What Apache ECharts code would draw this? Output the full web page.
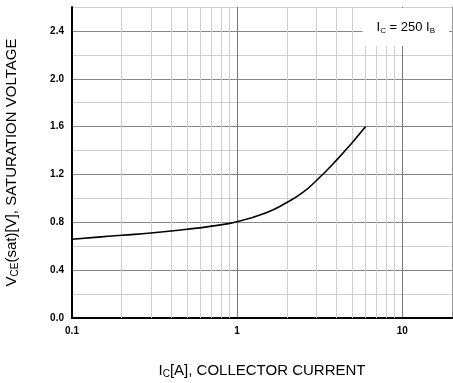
<!DOCTYPE html>
<html>
<head>
<meta charset="utf-8">
<script src="https://cdn.jsdelivr.net/npm/echarts@6/dist/echarts.min.js"></script>
<style>html,body{margin:0;padding:0;background:#fff}#c{width:453px;height:383px}</style>
</head>
<body>
<div id="c"></div>
<script>
// Collector current Ic [A]
var currentA = [0.1, 0.15, 0.2, 0.3, 0.5, 0.7, 1.0, 1.5, 2.0, 2.5, 3.0, 4.0, 5.0, 6.0];
// Vce(sat) [V]
var vceSat = [0.658, 0.678, 0.692, 0.71, 0.742, 0.768, 0.805, 0.88, 0.965, 1.05, 1.145, 1.32, 1.47, 1.6];
// minor vertical grid positions (log decades)
var minorX = [0.2, 0.3, 0.4, 0.5, 0.6, 0.7, 0.8, 0.9, 2, 3, 4, 5, 6, 7, 8, 9];
var yTickLabels = ['0.0', '0.4', '0.8', '1.2', '1.6', '2.0', '2.4'];
var xTickLabels = ['0.1', '1', '10'];

var FONT = 'Liberation Sans, Arial, sans-serif';
var chart = echarts.init(document.getElementById('c'));
var sub = {fontSize: 10, fontFamily: FONT, fontWeight: 'normal', color: '#000', verticalAlign: 'bottom', lineHeight: 14};
var main = {fontSize: 15, fontFamily: FONT, fontWeight: 'normal', color: '#000', lineHeight: 17};

chart.setOption({
  animation: false,
  grid: {left: 72, top: 7, right: 1, bottom: 65, containLabel: false, outerBoundsMode: 'none'},
  title: {
    text: '{a|I}{s|C}{a| = 250 I}{s|B}',
    right: 4, top: 7,
    backgroundColor: '#fff',
    padding: [13, 14, 11, 14],
    textStyle: {fontWeight: 'normal', rich: {
      a: {fontSize: 13, fontFamily: FONT, fontWeight: 'normal', color: '#000', lineHeight: 15},
      s: {fontSize: 8, fontFamily: FONT, fontWeight: 'normal', color: '#000', verticalAlign: 'bottom', lineHeight: 12}
    }},
    z: 10
  },
  xAxis: [{
    type: 'log', logBase: 10, min: 0.1, max: 20,
    name: '{a|I}{s|C}{a|[A], COLLECTOR CURRENT}',
    nameLocation: 'middle', nameGap: 44,
    nameTextStyle: {rich: {a: main, s: sub}},
    axisLine: {lineStyle: {color: '#000', width: 2}},
    axisTick: {show: false},
    axisLabel: {
      margin: 8, fontSize: 10, fontWeight: 'bold', fontFamily: FONT, color: '#000',
      showMaxLabel: false,
      formatter: function (v) {
        for (var i = 0; i < xTickLabels.length; i++) {
          if (Math.abs(parseFloat(xTickLabels[i]) - v) < 1e-9) return xTickLabels[i];
        }
        return '';
      }
    },
    splitLine: {show: true, lineStyle: {color: '#777', width: 1}},
    minorTick: {show: false}, minorSplitLine: {show: false}
  }, {
    type: 'log', logBase: 10, min: 0.1, max: 20, position: 'top',
    axisLine: {show: true, lineStyle: {color: '#000', width: 1.5}},
    axisTick: {show: false}, axisLabel: {show: false}, splitLine: {show: false}
  }],
  yAxis: [{
    type: 'value', min: 0, max: 2.6, interval: 0.2,
    name: '{a|V}{s|CE}{a|(sat)[V], SATURATION VOLTAGE}',
    nameLocation: 'middle', nameGap: 52, nameRotate: 90,
    nameTextStyle: {rich: {a: main, s: sub}},
    axisLine: {show: true, lineStyle: {color: '#000', width: 2}},
    axisTick: {show: false},
    axisLabel: {
      margin: 8, fontSize: 10, fontWeight: 'bold', fontFamily: FONT, color: '#000',
      formatter: function (v) {
        var s = v.toFixed(1);
        return yTickLabels.indexOf(s) >= 0 ? s : '';
      }
    },
    splitLine: {show: true, lineStyle: {color: ['#888', '#cfcfcf'], width: 1}}
  }, {
    type: 'value', min: 0, max: 2.6, interval: 0.2, position: 'right',
    axisLine: {show: true, lineStyle: {color: '#999', width: 1}},
    axisTick: {show: false}, axisLabel: {show: false}, splitLine: {show: false}
  }],
  series: [{
    type: 'line', xAxisIndex: 0, yAxisIndex: 0, data: [], z: 1, silent: true,
    markLine: {
      silent: true, symbol: 'none', animation: false,
      label: {show: false},
      lineStyle: {color: '#cfcfcf', width: 1, type: 'solid'},
      emphasis: {disabled: true},
      data: minorX.map(function (x) { return {xAxis: x}; })
    }
  }, {
    type: 'line', xAxisIndex: 0, yAxisIndex: 0, z: 5,
    data: currentA.map(function (x, i) { return [x, vceSat[i]]; }),
    smooth: true, showSymbol: false, symbol: 'none',
    lineStyle: {color: '#000', width: 1.6}
  }]
});
</script>
</body>
</html>
